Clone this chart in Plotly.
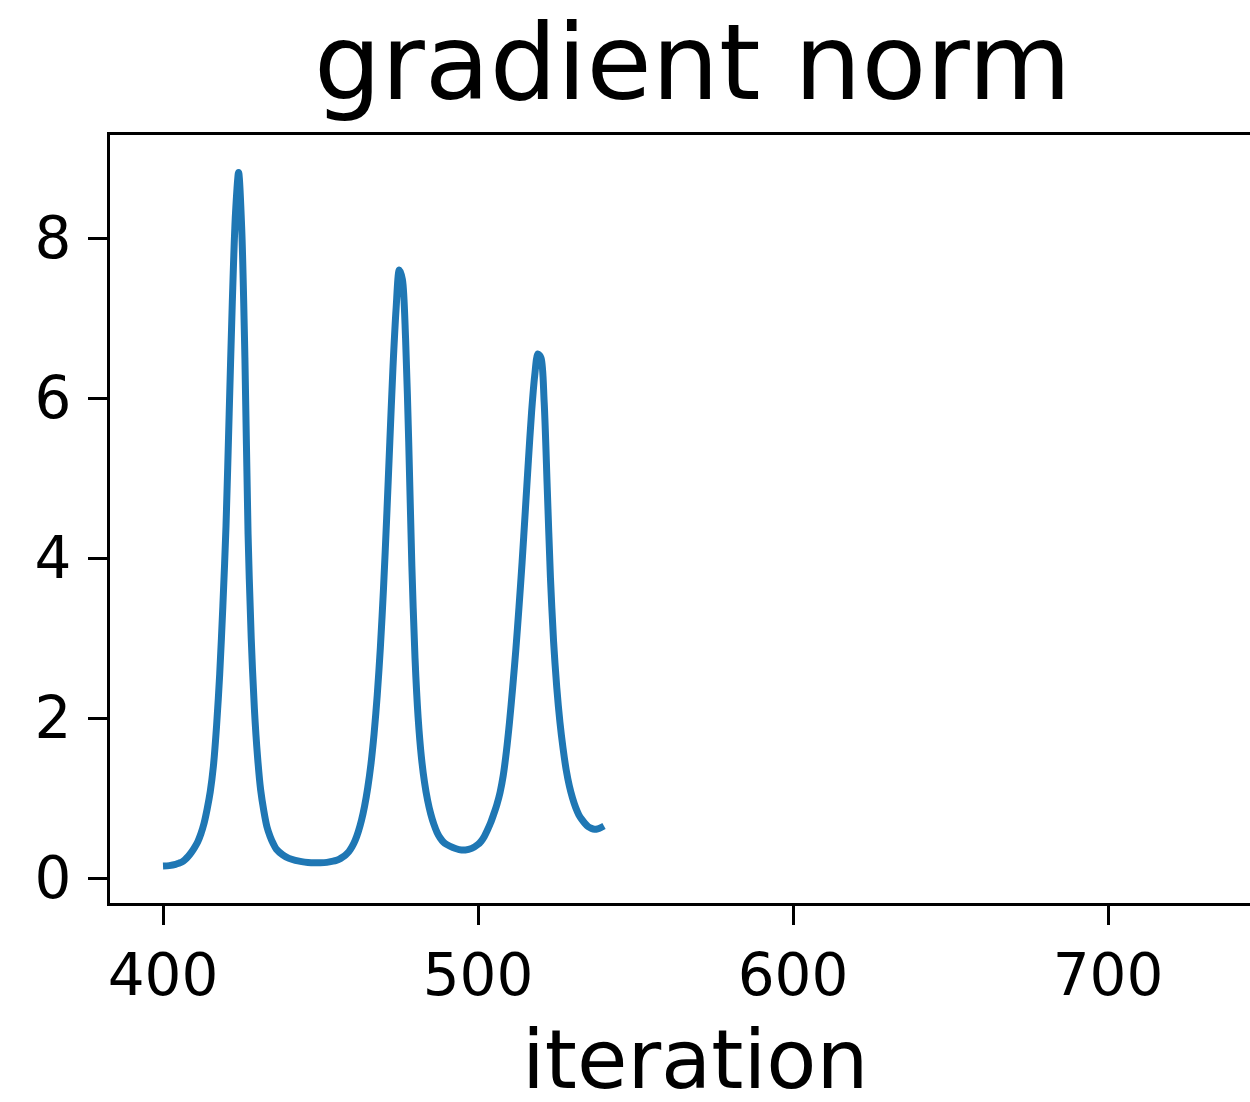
import plotly.graph_objects as go

# iteration numbers and gradient norm values
iterations = [400, 402, 404, 405, 406, 407, 408, 409, 410, 411, 412, 413, 414, 415, 416, 417, 418, 419,
              420, 421, 422, 423, 424, 425, 426, 427, 428, 429, 430, 431, 432, 433, 434, 435,
              436, 438, 440, 442, 444, 446, 448, 450, 452, 454, 455, 456, 457, 458, 459, 460,
              461, 462, 463, 464, 465, 466, 467, 468, 469, 470, 471, 472, 473, 474, 475, 476,
              477, 478, 479, 480, 481, 482, 483, 484, 485, 486, 487, 488, 489, 490, 492, 494,
              496, 498, 500, 501, 502, 503, 504, 505, 506, 507, 508, 509, 510, 511, 512, 513, 514,
              515, 516, 517, 518, 519, 520, 521, 522, 523, 524, 525, 526, 527, 528, 529, 530,
              531, 532, 533, 534, 535, 536, 537, 538, 539, 540]
grad_norm = [0.15, 0.155, 0.17, 0.185, 0.20, 0.23, 0.27, 0.32, 0.38, 0.45, 0.55, 0.68, 0.86, 1.08, 1.40, 1.90, 2.55, 3.40,
             4.40, 5.80, 7.20, 8.30, 8.82, 8.10, 6.50, 4.30, 3.00, 2.12, 1.52, 1.10, 0.84, 0.64, 0.52, 0.43,
             0.36, 0.29, 0.245, 0.22, 0.205, 0.195, 0.19, 0.19, 0.195, 0.21, 0.22, 0.235, 0.26, 0.29, 0.33, 0.39,
             0.47, 0.58, 0.72, 0.90, 1.13, 1.42, 1.80, 2.28, 2.88, 3.62, 4.50, 5.45, 6.38, 7.12, 7.60, 7.48,
             6.75, 5.45, 3.90, 2.75, 2.00, 1.52, 1.20, 0.97, 0.80, 0.67, 0.57, 0.50, 0.45, 0.42, 0.38, 0.355,
             0.35, 0.37, 0.42, 0.46, 0.52, 0.60, 0.69, 0.80, 0.92, 1.07, 1.28, 1.58, 1.95, 2.38, 2.85, 3.38, 3.95,
             4.58, 5.22, 5.82, 6.28, 6.55, 6.50, 5.95, 4.85, 3.75, 2.95, 2.38, 1.95, 1.62, 1.35, 1.15, 1.00,
             0.88, 0.79, 0.73, 0.68, 0.64, 0.62, 0.61, 0.615, 0.63, 0.65]

x_ticks = [400, 500, 600, 700]
y_ticks = [0, 2, 4, 6, 8]

FONT = "DejaVu Sans"

fig = go.Figure()
fig.add_trace(go.Scatter(
    x=iterations, y=grad_norm, mode="lines",
    line=dict(color="#1f77b4", width=7, shape="spline", smoothing=0.8),
    showlegend=False, hoverinfo="skip",
))

fig.update_layout(
    width=1250, height=1102,
    margin=dict(l=110, r=0, t=135, b=199, pad=0),
    paper_bgcolor="white", plot_bgcolor="white",
    font=dict(family=FONT, color="black"),
    showlegend=False,
)
fig.update_xaxes(
    range=[383.17, 745.08], tickvals=x_ticks, ticktext=[str(v) for v in x_ticks],
    showgrid=False, zeroline=False, showline=True, linecolor="black", linewidth=3,
    mirror=True, ticks="outside", ticklen=19, tickwidth=3, tickcolor="black",
    tickfont=dict(family=FONT, size=58, color="black"),
)
fig.update_yaxes(
    range=[-0.3125, 9.2875], tickvals=y_ticks, ticktext=[str(v) for v in y_ticks],
    showgrid=False, zeroline=False, showline=True, linecolor="black", linewidth=3,
    mirror=False, ticks="outside", ticklen=19, tickwidth=3, tickcolor="black",
    tickfont=dict(family=FONT, size=58, color="black"), ticklabelstandoff=5,
)

fig.add_annotation(
    text="gradient norm", xref="paper", yref="paper",
    x=(692 - 110) / 1140, y=1 + (135 - 62) / 768, xanchor="center", yanchor="middle",
    showarrow=False, font=dict(family=FONT, size=106, color="black"),
)
fig.add_annotation(
    text="iteration", xref="paper", yref="paper",
    x=(695 - 110) / 1140, y=-(1059 - 903) / 768, xanchor="center", yanchor="middle",
    showarrow=False, font=dict(family=FONT, size=82, color="black"),
)

fig.write_html("out.html")
